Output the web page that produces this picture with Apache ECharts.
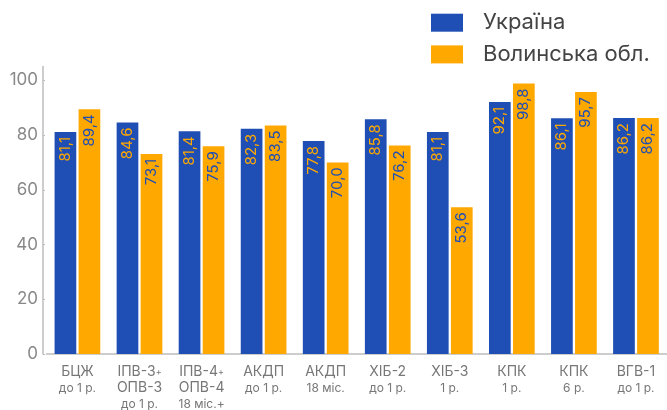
<!DOCTYPE html>
<html><head><meta charset="utf-8">
<script src="https://cdn.jsdelivr.net/npm/echarts@6/dist/echarts.min.js"></script>
<style>html,body{margin:0;padding:0;background:#fff}#c{width:667px;height:410px}</style>
</head><body><div id="c"></div>
<script>
const categories = [
  "БЦЖ\nдо 1 р.",
  "ІПВ-3+\nОПВ-3\nдо 1 р.",
  "ІПВ-4+\nОПВ-4\n18 міс.+",
  "АКДП\nдо 1 р.",
  "АКДП\n18 міс.",
  "ХІБ-2\nдо 1 р.",
  "ХІБ-3\n1 р.",
  "КПК\n1 р.",
  "КПК\n6 р.",
  "ВГВ-1\nдо 1 р."
];
const seriesNames = ["Україна", "Волинська обл."];
const ukraine = [81.1, 84.6, 81.4, 82.3, 77.8, 85.8, 81.1, 92.1, 86.1, 86.2];
const volyn = [89.4, 73.1, 75.9, 83.5, 70.0, 76.2, 53.6, 98.8, 95.7, 86.2];
const yTicks = [0, 20, 40, 60, 80, 100];

const BLUE = '#1f4fb4', ORANGE = '#ffa800';
const FONT = 'Inter';

function fmtCat(v) {
  const lines = v.split('\n');
  return lines.map((l, i) => {
    if (i === lines.length - 1) return '{b|' + l + '}';
    return l.replace(/^(.*?)(\+?)$/, (m, a, p) => '{a|' + a + '}' + (p ? '{p|+}' : ''));
  }).join('\n');
}

function barLabel(color) {
  return {
    show: true, position: 'insideTop', rotate: 90, align: 'right', verticalAlign: 'middle',
    distance: 5, color: color, fontSize: 15, fontFamily: FONT,
    formatter: p => p.value.toFixed(1).replace('.', ',')
  };
}

const chart = echarts.init(document.getElementById('c'));
chart.setOption({
  animation: false,
  textStyle: { fontFamily: FONT },
  legend: {
    orient: 'vertical', left: 431, top: 11.7, padding: 0, itemWidth: 32, itemHeight: 18, itemGap: 9.7,
    icon: 'rect',
    textStyle: { fontSize: 22, color: '#444', fontFamily: FONT, padding: [0, 0, 0, 15] },
    data: seriesNames
  },
  grid: { left: 46.4, top: 66.6, width: 625.6, height: 289.4, containLabel: false },
  xAxis: {
    type: 'category', data: categories,
    axisLine: { lineStyle: { color: '#bdbdbd', width: 1.5 } },
    axisTick: { show: false },
    axisLabel: {
      interval: 0, margin: 10, color: '#777', formatter: fmtCat, verticalAlign: 'top',
      rich: {
        a: { fontSize: 14, lineHeight: 16, color: '#777', fontFamily: FONT },
        p: { fontSize: 9, lineHeight: 16, color: '#777', fontFamily: FONT },
        b: { fontSize: 12, lineHeight: 16, color: '#777', fontFamily: FONT }
      }
    }
  },
  yAxis: {
    type: 'value', min: 0, max: 105, interval: 20, offset: 3.4,
    axisLine: { show: true, lineStyle: { color: '#bdbdbd', width: 1.5 } },
    axisTick: { show: true, inside: true, length: 2, lineStyle: { color: '#bdbdbd' } },
    splitLine: { show: false },
    axisLabel: {
      margin: 5, color: '#888', fontSize: 17, fontFamily: FONT, showMaxLabel: false,
      formatter: v => yTicks.includes(v) ? String(v) : ''
    }
  },
  series: [
    { name: seriesNames[0], type: 'bar', data: ukraine, barWidth: 21.7, barGap: '10.6%',
      itemStyle: { color: BLUE }, label: barLabel(ORANGE) },
    { name: seriesNames[1], type: 'bar', data: volyn, barWidth: 21.7, barGap: '10.6%',
      itemStyle: { color: ORANGE }, label: barLabel(BLUE) }
  ]
});
</script>
</body></html>
